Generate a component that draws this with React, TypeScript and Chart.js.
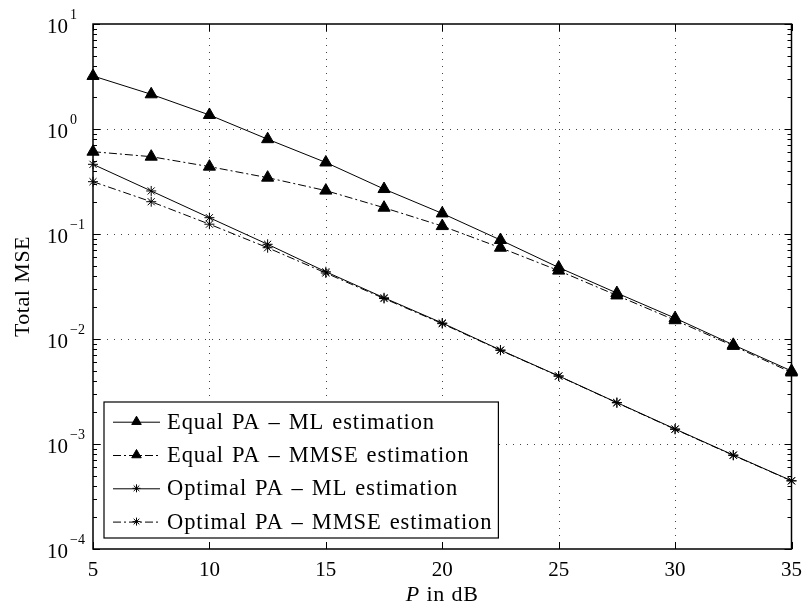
import { useEffect, useRef } from "react";
import { Chart, registerables } from "chart.js";
import { drawPoint } from "chart.js/helpers";

Chart.register(...registerables);

// Transmit power P in dB
const powerDb = [5, 7.5, 10, 12.5, 15, 17.5, 20, 22.5, 25, 27.5, 30, 32.5, 35];

// Total MSE per scheme
const equalPaMl = [3.2, 2.14, 1.36, 0.8, 0.48, 0.268, 0.157, 0.0877, 0.048, 0.0274, 0.0158, 0.0088, 0.00496];
const equalPaMmse = [0.608, 0.545, 0.438, 0.344, 0.259, 0.178, 0.119, 0.074, 0.0448, 0.026, 0.0151, 0.0086, 0.0048];
const optimalPaMl = [0.461, 0.257, 0.143, 0.0798, 0.0437, 0.0247, 0.0142, 0.00785, 0.00445, 0.00248, 0.00139, 0.000785, 0.000447];
const optimalPaMmse = [0.315, 0.203, 0.124, 0.074, 0.0425, 0.0243, 0.014, 0.0078, 0.00443, 0.00247, 0.00138, 0.00078, 0.000445];

const seriesLabels = [
  "Equal PA \u2013 ML estimation",
  "Equal PA \u2013 MMSE estimation",
  "Optimal PA \u2013 ML estimation",
  "Optimal PA \u2013 MMSE estimation",
];

const xTickValues = [5, 10, 15, 20, 25, 30, 35];
const yExponents = [-4, -3, -2, -1, 0, 1];

const SERIF = "'Liberation Serif', 'Times New Roman', serif";
const DASH_DOT = [8, 3, 2, 3];

const toPoints = (ys: number[]) => ys.map((y, i) => ({ x: powerDb[i], y }));

const setSpacing = (ctx: any, letter: string, word: string) => {
  if ("letterSpacing" in ctx) ctx.letterSpacing = letter;
  if ("wordSpacing" in ctx) ctx.wordSpacing = word;
};

// Axes box, inward ticks, dotted grid, exponent labels and in-plot legend
const matlabAxes = {
  id: "matlabAxes",
  beforeDatasetsDraw(chart: any) {
    const { ctx, chartArea: a, scales } = chart;
    const xs = scales.x;
    const ys = scales.y;
    ctx.save();
    ctx.strokeStyle = "#444";
    ctx.lineWidth = 1;
    ctx.setLineDash([1, 6]);
    for (const v of xTickValues) {
      const px = Math.round(xs.getPixelForValue(v)) + 0.5;
      if (px <= a.left + 1 || px >= a.right - 1) continue;
      ctx.beginPath();
      ctx.moveTo(px, a.top);
      ctx.lineTo(px, a.bottom);
      ctx.stroke();
    }
    for (const e of yExponents) {
      const py = Math.round(ys.getPixelForValue(10 ** e)) + 0.5;
      if (py <= a.top + 1 || py >= a.bottom - 1) continue;
      ctx.beginPath();
      ctx.moveTo(a.left, py);
      ctx.lineTo(a.right, py);
      ctx.stroke();
    }
    ctx.restore();
  },
  afterDatasetsDraw(chart: any) {
    const { ctx, chartArea: a, scales } = chart;
    const xs = scales.x;
    const ys = scales.y;
    ctx.save();
    ctx.setLineDash([]);
    ctx.strokeStyle = "#000";
    ctx.fillStyle = "#000";

    // ticks
    ctx.lineWidth = 1;
    ctx.beginPath();
    for (const v of xTickValues) {
      const px = Math.round(xs.getPixelForValue(v)) + 0.5;
      ctx.moveTo(px, a.bottom);
      ctx.lineTo(px, a.bottom - 7);
      ctx.moveTo(px, a.top);
      ctx.lineTo(px, a.top + 7);
    }
    for (const e of yExponents) {
      for (let k = 1; k <= 9; k++) {
        const v = k * 10 ** e;
        if (v > 10.0001) break;
        const py = Math.round(ys.getPixelForValue(v)) + 0.5;
        const len = k === 1 ? 7 : 4;
        ctx.moveTo(a.left, py);
        ctx.lineTo(a.left + len, py);
        ctx.moveTo(a.right, py);
        ctx.lineTo(a.right - len, py);
      }
    }
    ctx.stroke();

    // box
    ctx.lineWidth = 1.5;
    ctx.strokeRect(a.left, a.top, a.right - a.left, a.bottom - a.top);

    // y tick labels: 10 with raised exponent
    ctx.textBaseline = "middle";
    for (const e of yExponents) {
      const py = ys.getPixelForValue(10 ** e);
      ctx.font = `21px ${SERIF}`;
      ctx.textAlign = "right";
      ctx.fillText("10", a.left - 25, py + 3);
      ctx.font = `14px ${SERIF}`;
      ctx.textAlign = "left";
      const exp = e < 0 ? "\u2212" + Math.abs(e) : String(e);
      ctx.fillText(exp, a.left - 23, py - 9);
    }

    // y title
    ctx.save();
    ctx.translate(23, (a.top + a.bottom) / 2);
    ctx.rotate(-Math.PI / 2);
    ctx.font = `22px ${SERIF}`;
    setSpacing(ctx, "0.5px", "1px");
    ctx.textAlign = "center";
    ctx.fillText("Total MSE", 0, 0);
    ctx.restore();

    // x title with italic P
    const cx = (a.left + a.right) / 2;
    const ty = 595;
    setSpacing(ctx, "0.8px", "1px");
    ctx.font = `italic 22px ${SERIF}`;
    const wP = ctx.measureText("P").width;
    ctx.font = `22px ${SERIF}`;
    const wRest = ctx.measureText(" in dB").width;
    const x0 = cx - (wP + wRest) / 2;
    ctx.textAlign = "left";
    ctx.font = `italic 22px ${SERIF}`;
    ctx.fillText("P", x0, ty);
    ctx.font = `22px ${SERIF}`;
    ctx.fillText(" in dB", x0 + wP, ty);

    // legend
    const datasets = chart.data.datasets;
    ctx.font = `22.5px ${SERIF}`;
    setSpacing(ctx, "0.9px", "1.5px");
    let maxW = 0;
    for (const d of datasets) maxW = Math.max(maxW, ctx.measureText(d.label).width);
    const lx = a.left + 11;
    const ltop = 402;
    const lbottom = 538;
    const textX = lx + 63;
    const lw = textX - lx + maxW + 6;
    ctx.fillStyle = "#fff";
    ctx.fillRect(lx, ltop, lw, lbottom - ltop);
    ctx.strokeStyle = "#000";
    ctx.lineWidth = 1.2;
    ctx.strokeRect(lx, ltop, lw, lbottom - ltop);
    datasets.forEach((d: any, i: number) => {
      const cy = ltop + 19.7 + i * 33.3;
      ctx.strokeStyle = "#000";
      ctx.lineWidth = 1;
      ctx.setLineDash(d.borderDash || []);
      ctx.beginPath();
      ctx.moveTo(lx + 9, cy + 0.5);
      ctx.lineTo(lx + 56, cy + 0.5);
      ctx.stroke();
      ctx.setLineDash([]);
      ctx.fillStyle = "#000";
      drawPoint(ctx, { pointStyle: d.pointStyle, radius: d.pointStyle === "star" ? 4 : 5.5, rotation: 0, borderWidth: 1 }, lx + 32.5, cy);
      ctx.fillStyle = "#000";
      ctx.textAlign = "left";
      ctx.textBaseline = "middle";
      ctx.fillText(d.label, textX, cy + 1);
    });
    ctx.restore();
  },
};

export default function App() {
  const canvasRef = useRef<HTMLCanvasElement | null>(null);

  useEffect(() => {
    document.body.style.margin = "0";
    const canvas = canvasRef.current;
    if (!canvas) return;

    const common = {
      borderColor: "#000",
      backgroundColor: "#000",
      pointBorderColor: "#000",
      pointBackgroundColor: "#000",
      borderWidth: 1,
      pointBorderWidth: 1,
      tension: 0,
      fill: false,
      clip: false as const,
    };

    const chart = new Chart(canvas, {
      type: "line",
      data: {
        datasets: [
          { ...common, label: seriesLabels[0], data: toPoints(equalPaMl), pointStyle: "triangle", pointRadius: 7, borderDash: [] },
          { ...common, label: seriesLabels[1], data: toPoints(equalPaMmse), pointStyle: "triangle", pointRadius: 7, borderDash: DASH_DOT },
          { ...common, label: seriesLabels[2], data: toPoints(optimalPaMl), pointStyle: "star", pointRadius: 5, borderDash: [] },
          { ...common, label: seriesLabels[3], data: toPoints(optimalPaMmse), pointStyle: "star", pointRadius: 5, borderDash: DASH_DOT },
        ],
      },
      options: {
        animation: false,
        responsive: false,
        devicePixelRatio: 1,
        layout: { padding: { left: 0, right: 14, top: 24, bottom: 0 } },
        plugins: { legend: { display: false }, tooltip: { enabled: false }, title: { display: false } },
        scales: {
          x: {
            type: "linear",
            min: 5,
            max: 35,
            ticks: { stepSize: 5, color: "#000", font: { family: SERIF, size: 21 }, padding: 9, maxRotation: 0 },
            grid: { display: false, drawTicks: false },
            border: { display: false },
            afterFit: (s: any) => { s.height = 62; },
          },
          y: {
            type: "logarithmic",
            min: 1e-4,
            max: 10,
            ticks: { display: false },
            grid: { display: false, drawTicks: false },
            border: { display: false },
            afterFit: (s: any) => { s.width = 93; },
          },
        },
      },
      plugins: [matlabAxes],
    });

    return () => chart.destroy();
  }, []);

  return (
    <div style={{ width: 811, height: 611, background: "#fff" }}>
      <canvas ref={canvasRef} width={811} height={611} style={{ display: "block" }} />
    </div>
  );
}
